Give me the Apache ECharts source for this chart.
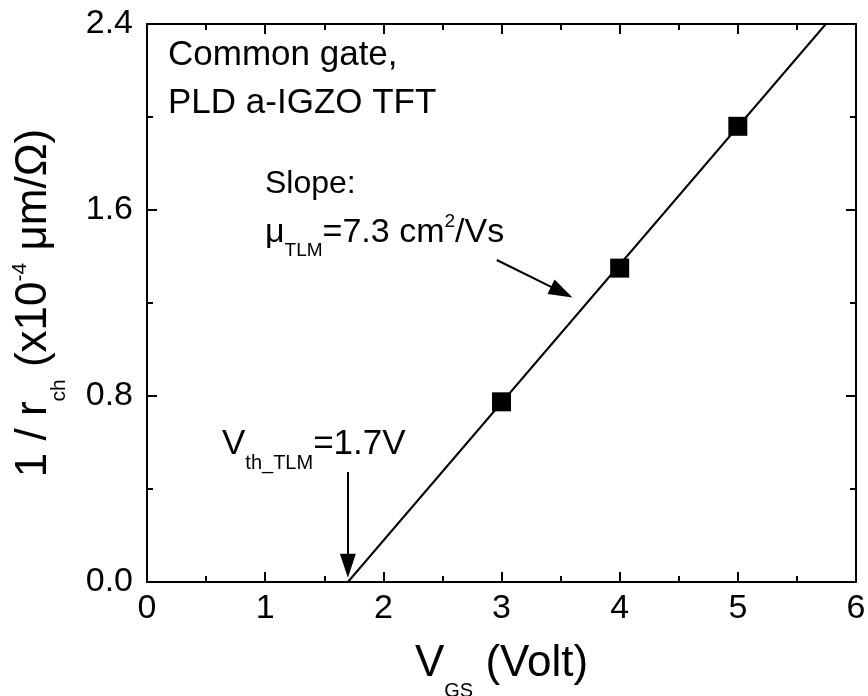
<!DOCTYPE html>
<html><head><meta charset="utf-8">
<script src="https://cdn.jsdelivr.net/npm/echarts@6/dist/echarts.min.js"></script>
<style>html,body{margin:0;padding:0;background:#fff}#c{width:868px;height:696px}</style>
</head><body><div id="c"></div>
<script>
// Data
const vgs = [3, 4, 5];
const invRch = [0.775, 1.35, 1.96];
const fitVgs = [1.7, 5.745];
const fitInvR = [0, 2.4];
const xRange = [0, 6];
const yRange = [0, 2.4];
const xStep = 1;
const yStep = 0.8;
const vthArrow = [[1.7, 0.473], [1.7, 0.07]];
const slopeArrow = [[2.96, 1.385], [3.51, 1.247]];

const FONT = 'Liberation Sans, Arial, sans-serif';
const chart = echarts.init(document.getElementById('c'));

const axisCommon = {
  axisLine: {show: true, onZero: false, lineStyle: {color: '#000', width: 2}},
  axisTick: {show: true, inside: true, length: 10, lineStyle: {color: '#000', width: 2}},
  minorTick: {show: true, splitNumber: 2, length: 6, lineStyle: {color: '#000', width: 2}},
  splitLine: {show: false}
};

chart.setOption({
  animation: false,
  backgroundColor: '#fff',
  grid: {left: 147, right: 12, top: 24, bottom: 114, containLabel: false, outerBoundsMode: 'none'},
  xAxis: [
    Object.assign({
      type: 'value', min: xRange[0], max: xRange[1], interval: xStep, position: 'bottom',
      axisLabel: {color: '#000', fontSize: 34, fontFamily: FONT, margin: 10},
      name: '{a|V}{s|GS}{a| (Volt)}', nameLocation: 'middle', nameGap: 45,
      nameTextStyle: {
        fontFamily: FONT, color: '#000',
        rich: {
          a: {fontSize: 44, fontFamily: FONT, color: '#000'},
          s: {fontSize: 20, fontFamily: FONT, color: '#000', padding: [54, 0, 0, 0]}
        }
      }
    }, axisCommon),
    Object.assign({
      type: 'value', min: xRange[0], max: xRange[1], interval: xStep, position: 'top',
      axisLabel: {show: false}
    }, axisCommon)
  ],
  yAxis: [
    Object.assign({
      type: 'value', min: yRange[0], max: yRange[1], interval: yStep, position: 'left',
      axisLabel: {color: '#000', fontSize: 34, fontFamily: FONT, margin: 14,
        formatter: v => v.toFixed(1)},
      name: '{a|1 / r}{s|ch}{a| (x10}{p|-4}{a| \u03bcm/\u03a9)}', nameLocation: 'middle', nameGap: 77, nameRotate: 90,
      nameTextStyle: {
        fontFamily: FONT, color: '#000',
        rich: {
          a: {fontSize: 44, fontFamily: FONT, color: '#000'},
          s: {fontSize: 21, fontFamily: FONT, color: '#000', padding: [52, 0, 0, 0]},
          p: {fontSize: 21, fontFamily: FONT, color: '#000', padding: [0, 0, 26, 0]}
        }
      }
    }, axisCommon),
    Object.assign({
      type: 'value', min: yRange[0], max: yRange[1], interval: yStep, position: 'right',
      axisLabel: {show: false}
    }, axisCommon)
  ],
  series: [
    {
      type: 'line', data: fitVgs.map((x, i) => [x, fitInvR[i]]),
      showSymbol: false, lineStyle: {color: '#000', width: 2}, z: 2,
      markLine: {
        silent: true, symbol: ['none', 'triangle'], symbolSize: [16, 24],
        label: {show: false},
        lineStyle: {color: '#000', width: 2, type: 'solid'},
        data: [
          [{coord: vthArrow[0]}, {coord: vthArrow[1]}],
          [{coord: slopeArrow[0]}, {coord: slopeArrow[1]}]
        ]
      }
    },
    {
      type: 'scatter', data: vgs.map((x, i) => [x, invRch[i]]),
      symbol: 'rect', symbolSize: 19, itemStyle: {color: '#000', opacity: 1}, z: 3
    }
  ],
  graphic: [
    {type: 'text', left: 168, top: 31, style: {text: 'Common gate,\nPLD a-IGZO TFT', fontSize: 35, lineHeight: 48, fontFamily: FONT, fill: '#000'}},
    {type: 'text', left: 265, top: 168, style: {text: 'Slope:', fontSize: 32, fontFamily: FONT, fill: '#000'}},
    {type: 'text', left: 265, top: 212, style: {
      text: '{a|\u03bc}{s|TLM}{a|=7.3 cm}{p|2}{a|/Vs}', fontFamily: FONT, fill: '#000',
      rich: {
        a: {fontSize: 34, fontFamily: FONT, fill: '#000'},
        s: {fontSize: 19, fontFamily: FONT, fill: '#000', padding: [36, 0, 0, 0]},
        p: {fontSize: 19, fontFamily: FONT, fill: '#000', padding: [0, 0, 22, 0]}
      }}},
    {type: 'text', left: 222, top: 427, style: {
      text: '{a|V}{s|th_TLM}{a|=1.7V}', fontFamily: FONT, fill: '#000',
      rich: {
        a: {fontSize: 35, fontFamily: FONT, fill: '#000'},
        s: {fontSize: 20, fontFamily: FONT, fill: '#000', padding: [37, 0, 0, 0]}
      }}}
  ]
});
</script></body></html>
